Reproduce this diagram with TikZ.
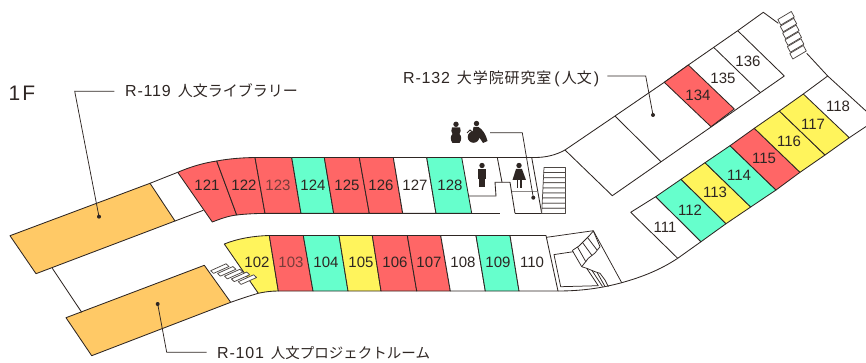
\documentclass[tikz,border=0pt]{standalone}
\usepackage{fontspec}
\setmainfont{Liberation Sans}
\newfontfamily\latinfont[LetterSpace=5]{Liberation Sans}
\newfontfamily\numfont{Liberation Sans}
\newfontfamily\cjkfont{Noto Sans CJK JP}
\definecolor{ink}{HTML}{2E2623}
\definecolor{roomred}{HTML}{FF6666}
\definecolor{roomgreen}{HTML}{66FFCC}
\definecolor{roomyellow}{HTML}{FFF45C}
\definecolor{roomorange}{HTML}{FFC966}
\tikzset{
  wall/.style={draw=ink,line width=0.85pt,line join=round},
  thin wall/.style={draw=ink,line width=0.75pt,line join=round},
  grey wall/.style={draw=ink!55,line width=1pt},
  leader/.style={draw=ink,line width=0.75pt},
  red room/.style={wall,fill=roomred},
  green room/.style={wall,fill=roomgreen},
  yellow room/.style={wall,fill=roomyellow},
  orange room/.style={wall,fill=roomorange},
  white room/.style={wall,fill=white},
  num/.style={text=ink,inner sep=0pt,font=\numfont\fontsize{15}{17}\selectfont},
  dim num/.style={num,text=ink!65!roomred},
  caption/.style={text=ink,inner sep=0pt,anchor=base west},
  pin/.style={circle,fill=ink,inner sep=0pt,minimum size=4pt},
  stair step/.style={draw=ink!85,fill=white,line width=0.75pt,line join=round},
  icon/.style={fill=ink,draw=none}
}
\begin{document}
\begin{tikzpicture}[x=1pt,y=-1pt]
\useasboundingbox (0,0) rectangle (866,363);
\clip (0,0) rectangle (866,363);
% --- left wing ---
\draw[orange room] (10,235.7) -- (150,183.3) -- (175,221) -- (36,273.7) -- cycle;
\draw[orange room] (66,317.7) -- (204.3,265.3) -- (230.7,302.3) -- (91.7,355.7) -- cycle;
\draw[wall] (150,183.3) -- (177.7,172.3);
\draw[wall] (175,221) -- (203.3,210.3);
\draw[wall] (52.3,268.3) -- (81.7,312.3);
\draw[wall] (230.7,302.3) .. controls (240,299) and (249,296) .. (258.3,293.3);
% --- upper corridor rooms ---
\draw[red room] (177.7,172.3) .. controls (190,167) and (203,163) .. (216.7,161) -- (236.7,215) .. controls (228,216) and (220,219) .. (212.3,222) -- cycle;
\draw[red room] (216.7,161) .. controls (229,158.7) and (242,157.7) .. (255,157.5) -- (265,213.4) .. controls (255,213.5) and (245,214) .. (236.7,215) -- cycle;
\draw[red room] (255,157.5) -- (291.7,157.5) -- (301,213.4) -- (265,213.4) -- cycle;
\draw[green room] (291.7,157.5) -- (324.3,157.5) -- (333.7,213.4) -- (301,213.4) -- cycle;
\draw[red room] (324.3,157.5) -- (359.3,157.5) -- (369.3,213.4) -- (333.7,213.4) -- cycle;
\draw[red room] (359.3,157.5) -- (393.3,157.5) -- (402.7,213.4) -- (369.3,213.4) -- cycle;
\draw[white room] (393.3,157.5) -- (426.7,157.5) -- (436,213.4) -- (402.7,213.4) -- cycle;
\draw[green room] (426.7,157.5) -- (461.7,157.5) -- (471.7,213.4) -- (436,213.4) -- cycle;
% --- restrooms ---
\draw[wall] (461.7,157.5) -- (531.7,157.5) -- (535,157.5) .. controls (546,157.5) and (556,155) .. (565,150);
\draw[wall] (471.7,213.4) -- (500,213.4);
\draw[wall] (515,213.4) -- (541.7,213.4);
\draw[wall] (468.3,196) -- (496,196) -- (495,182.3) -- (510,182.3) -- (515,213.4);
\draw[wall] (497.3,157.5) -- (502,182.3);
\draw[wall] (531.7,157.5) -- (541.7,213.4);
\draw[grey wall] (511.7,191.7) -- (536.7,191.7);
% --- stair by restrooms ---
\foreach \i in {0,...,8}{
  \draw[stair step] ({544-0.26*\i},{167.5+5.1*\i}) -- (565.5,{167.5+5.1*\i}) -- (565.5,{172.6+5.1*\i}) -- ({543.7-0.26*\i},{172.6+5.1*\i}) -- cycle;
}
% --- lower corridor rooms ---
\draw[yellow room] (224.3,244) .. controls (238,238.5) and (253,236) .. (269.3,235.5) -- (278.3,291) .. controls (271,291) and (264,292) .. (258.3,293.3) -- cycle;
\draw[red room] (269.3,235.5) -- (303.3,235.5) -- (313,291) -- (278.3,291) -- cycle;
\draw[green room] (303.3,235.5) -- (339,235.5) -- (348,291) -- (313,291) -- cycle;
\draw[yellow room] (339,235.5) -- (372.3,235.5) -- (381,291) -- (348,291) -- cycle;
\draw[red room] (372.3,235.5) -- (407.3,235.5) -- (416.7,291) -- (381,291) -- cycle;
\draw[red room] (407.3,235.5) -- (440.7,235.5) -- (450.3,291) -- (416.7,291) -- cycle;
\draw[white room] (440.7,235.5) -- (476,235.5) -- (485.3,291) -- (450.3,291) -- cycle;
\draw[green room] (476,235.5) -- (510,235.5) -- (519,291) -- (485.3,291) -- cycle;
\draw[white room] (510,235.5) -- (546,235.5) -- (558,291) -- (519,291) -- cycle;
% --- stair by 102 ---
\foreach \i in {0,...,4}{
  \draw[stair step] ({210.7+6.9*\i},{270.7+2.75*\i}) -- ({226+6.9*\i},{263.8+2.75*\i}) -- ({229+6.9*\i},{266.5+2.75*\i}) -- ({213.5+6.9*\i},{273.4+2.75*\i}) -- cycle;
}
% --- lower right stair hall ---
\draw[wall] (558,291) .. controls (582,291) and (602,288) .. (621.7,282.7) .. controls (642,277) and (660,270) .. (677.7,258.3);
\draw[thin wall] (546.7,237.3) -- (593.3,230.7) -- (621.7,282.7);
\draw[thin wall] (573.3,251.7) -- (554,254.6) -- (560.7,286.7) -- (598.3,285.7);
\draw[thin wall] (572.3,250.5) -- (579,246) -- (584,241) -- (589,236) -- (593.3,231);
\draw[thin wall] (581.7,266.7) -- (588.3,258.3) -- (595,253) -- (600,246.7) -- (593.3,231);
\draw[thin wall] (572.3,250.5) -- (581.7,266.7);
\draw[thin wall] (577.5,247) -- (586,262);
\draw[thin wall] (582.5,242.5) -- (592,255.5);
\draw[thin wall] (587.5,237.5) -- (597,250);
\draw[thin wall] (581.7,266.7) -- (586.7,268.3) -- (595,271.7) -- (600,273.3) -- (605,280) -- (608.3,286.7);
\draw[thin wall] (586.7,268.3) -- (598.3,285.7);
\draw[thin wall] (592,270.5) -- (602.5,286.5);
\draw[thin wall] (597,272.3) -- (605,286.5);
% --- upper right block ---
\draw[white room] (565,150) -- (612.3,195.7) -- (784.3,76) -- (737.7,30.7) -- (688.3,65) -- (664.3,82.3) -- (615,116) -- cycle;
\draw[red room] (664.3,82.3) -- (688.3,65) -- (734.3,109) -- (711,126.7) -- cycle;
\draw[wall] (615,116) -- (661,161.7);
\draw[wall] (714,47.7) -- (760,92.3);
\draw[wall] (737.7,30.7) -- (763.3,12.3) -- (778.3,23.3);
% --- right stair ---
\foreach \i in {0,...,5}{
  \draw[stair step] ({777.8+2.4*\i},{19.5+6.8*\i}) -- ({791.3+2.4*\i},{11.5+6.8*\i}) -- ({794.3+2.4*\i},{17+6.8*\i}) -- ({780.8+2.4*\i},{25+6.8*\i}) -- cycle;
}
\draw[wall] (806.7,53.3) -- (827.7,76) -- (866,111);
% --- lower right rooms ---
\draw[white room] (630.7,212.3) -- (655.7,196.7) -- (701,241.7) -- (677.7,258.3) -- cycle;
\draw[green room] (655.7,196.7) -- (681,179.3) -- (726,223.7) -- (701,241.7) -- cycle;
\draw[yellow room] (681,179.3) -- (705,162.7) -- (750.7,207) -- (726,223.7) -- cycle;
\draw[green room] (705,162.7) -- (730,145.7) -- (776,190) -- (750.7,207) -- cycle;
\draw[red room] (730,145.7) -- (754.3,128.3) -- (800,172.3) -- (776,190) -- cycle;
\draw[yellow room] (754.3,128.3) -- (779.3,111) -- (825,155) -- (800,172.3) -- cycle;
\draw[yellow room] (779.3,111) -- (803.3,94) -- (849.3,137.7) -- (825,155) -- cycle;
\draw[wall] (803.3,94) -- (827.7,76);
\draw[wall] (849.3,137.7) -- (866,126.5);
% --- icons ---
\fill[icon] (482,165.5) circle (2.7);
\fill[icon] (478,169) rectangle (486,179);
\fill[icon] (479.2,178) rectangle (481.6,187.5);
\fill[icon] (482.4,178) rectangle (484.8,187.5);
\fill[icon] (519,165.5) circle (2.7);
\fill[icon] (516,169) -- (522,169) -- (526,180) -- (512.5,180) -- cycle;
\fill[icon] (516.6,179) rectangle (518.4,188.5);
\fill[icon] (519.8,179) rectangle (521.6,188.5);
\fill[icon] (456,124.3) circle (2.7);
\fill[icon] (452,127.5) -- (460,127.5) .. controls (461.5,130) and (460.5,132) .. (459.5,134) .. controls (461.8,136) and (461.8,140) .. (459.5,143) -- (452.5,143) .. controls (450.2,140) and (450.2,136) .. (452.5,134) .. controls (451.5,132) and (450.5,130) .. (452,127.5) -- cycle;
\fill[icon] (476.5,123.5) circle (2.7);
\fill[icon] (473.5,137) circle (5.8);
\fill[icon] (473.5,127) -- (478.5,127) .. controls (482,129) and (486,134) .. (487.5,141) -- (483,143) .. controls (480,137) and (475,135) .. (472.5,132) -- cycle;
\draw[ink,line width=1pt] (467,133) -- (470,130) -- (473.5,133);
% --- pins ---
\node[pin] (pinA) at (99,216.7) {};
\node[pin] (pinB) at (157.7,304) {};
\node[pin] (pinC) at (653,115) {};
\node[pin] (pinD) at (533.3,197.7) {};
% --- labels ---
\node[caption,font=\fontsize{21}{24}\selectfont] (title) at (8.5,101) {\addfontfeature{LetterSpace=10}1F};
\node[caption,font=\fontsize{16}{18}\selectfont] (labA) at (125,96.5) {{\latinfont R-119}\hspace{7pt}{\cjkfont\fontsize{15}{18}\selectfont 人文ライブラリー}};
\node[caption,font=\fontsize{16}{18}\selectfont] (labB) at (217,358) {{\latinfont R-101}\hspace{7pt}{\cjkfont\fontsize{14.5}{18}\selectfont 人文プロジェクトルーム}};
\node[caption,font=\fontsize{16}{18}\selectfont] (labC) at (403,83.3) {{\latinfont R-132}\hspace{7pt}{\cjkfont\fontsize{15}{18}\selectfont\addfontfeature{LetterSpace=6}大学院研究室}\hspace{3pt}(\hspace{2pt}{\cjkfont\fontsize{15}{18}\selectfont 人文}\hspace{2pt})};
\coordinate (legA) at (114.3,91.3);
\coordinate (kneeA) at (74.7,91.3);
\coordinate (legB) at (206.7,352.3);
\coordinate (kneeB) at (166.7,352.3);
\coordinate (legC) at (607.3,76);
\coordinate (kneeC) at (645.7,76);
\coordinate (legD) at (490,132.7);
\coordinate (kneeD) at (522.3,132.7);
\draw[leader] (legA) -- (kneeA) -- (pinA.center);
\draw[leader] (legB) -- (kneeB) -- (pinB.center);
\draw[leader] (legC) -- (kneeC) -- (pinC.center);
\draw[leader] (legD) -- (kneeD) -- (pinD.center);
% --- room numbers ---
\foreach \n/\x/\y in {121/207/185,122/244/185,125/347/185,124/313/185,126/381/185,127/415/185,128/450/185,
  102/257/262,104/326/262,105/361/262,106/395/262,107/429/262,108/463/262,109/498/262,110/532/262,
  111/665/227,112/690/210,113/715/192,114/739/175,115/764/158,116/789/141,117/813/124,118/838/106,
  134/698/95,135/723/78,136/748/61}{
  \node[num] (room\n) at (\x,\y) {\n};
}
\node[dim num] (room123) at (278,185) {123};
\node[dim num] (room103) at (291,262) {103};
\end{tikzpicture}
\end{document}
